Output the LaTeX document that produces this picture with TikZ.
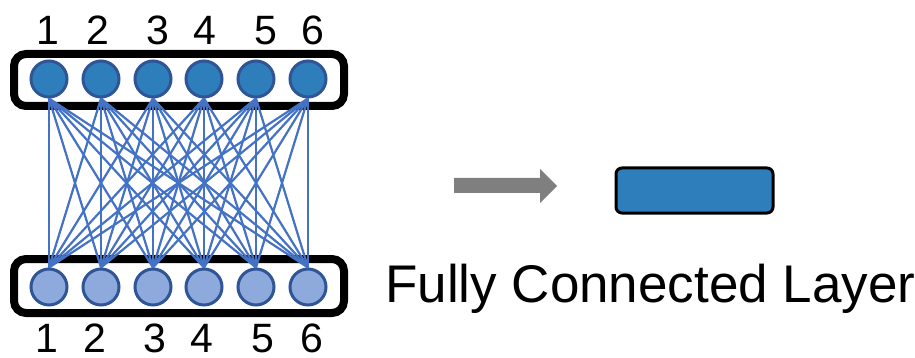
\documentclass[tikz,border=0pt]{standalone}
\usepackage{fontspec}
\setmainfont{Liberation Sans}
\definecolor{nodeblue}{HTML}{2E7EBB}
\definecolor{nodelight}{HTML}{8EA9DB}
\definecolor{rimblue}{HTML}{2F5597}
\definecolor{edgeblue}{HTML}{4472C4}
\definecolor{arrowgray}{HTML}{7F7F7F}
\tikzset{
  layerbox/.style={draw=black, line width=8pt, rounded corners=12pt},
  upper/.style={circle, draw=rimblue, line width=3pt, fill=nodeblue, minimum size=36pt, inner sep=0pt},
  lower/.style={circle, draw=rimblue, line width=3pt, fill=nodelight, minimum size=36pt, inner sep=0pt},
  idx/.style={anchor=base, inner sep=0pt, font=\fontsize{41}{41}\selectfont},
  link/.style={draw=edgeblue, line width=2.2pt},
}
\begin{document}
\begin{tikzpicture}[x=1pt, y=-1pt]
\useasboundingbox (0,0) rectangle (915,358);
% frames around the two layers
\draw[layerbox] (14,54) rectangle (344,106);
\draw[layerbox] (14,259) rectangle (344,313);
% neurons
\foreach \i/\x in {1/49,2/101,3/153,4/204,5/256,6/308} {
  \node[upper] (t\i) at (\x,79) {};
  \node[lower] (b\i) at (\x,287) {};
}
% full connections
\foreach \i in {1,...,6} {
  \foreach \j in {1,...,6} {
    \draw[link] (t\i.south) -- (b\j.north);
  }
}
% indices
\foreach \i/\x in {1/48,2/98,3/158,4/205,5/266,6/313} {
  \node[idx] (tl\i) at (\x,45) {\i};
}
\foreach \i/\x in {1/47,2/95,3/155,4/202,5/263,6/312} {
  \node[idx] (bl\i) at (\x,352) {\i};
}
% block arrow
\fill[arrowgray] (454,178) -- (540,178) -- (540,169) -- (557,186) -- (540,203)
  -- (540,193) -- (454,193) -- cycle;
% the collapsed layer
\node[draw=black, line width=3pt, fill=nodeblue, rounded corners=6pt,
      minimum width=157pt, minimum height=45pt, inner sep=0pt] (fc) at (694.5,190.5) {};
\node[anchor=base west, inner sep=0pt, font=\fontsize{53}{53}\selectfont] (lbl) at (385,302) {Fully Connected Layer};
\end{tikzpicture}
\end{document}
